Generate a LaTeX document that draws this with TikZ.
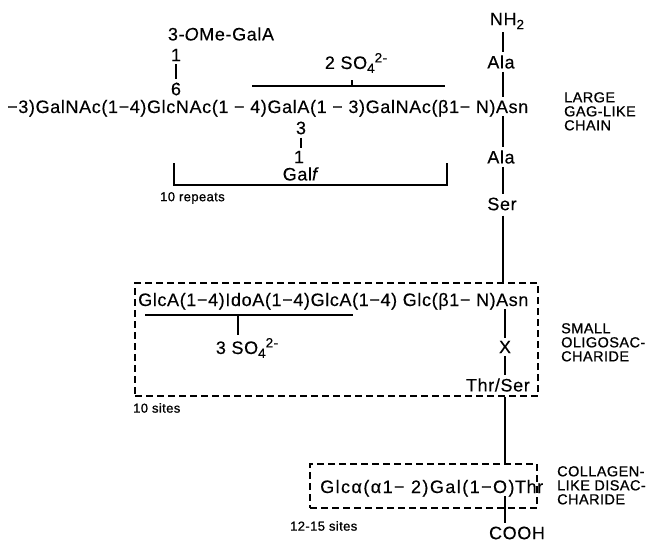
\documentclass[tikz,border=0pt]{standalone}
\usepackage{fontspec}
\setmainfont{Liberation Sans}[LetterSpace=3.5,FakeBold=0.3]
\newfontfamily\boldish{Liberation Sans}[LetterSpace=3,FakeBold=0.9]
\newcommand{\mainsz}{\fontsize{18}{20}\selectfont}
\newcommand{\legsz}{\boldish\fontsize{14.5}{14}\selectfont}
\newcommand{\smsz}{\boldish\fontsize{13}{14}\selectfont}
\newcommand{\scr}[1]{{\fontsize{13.5}{14}\selectfont #1}}
\newcommand{\sulf}{SO\raisebox{-4pt}{\scr{4}}\raisebox{6.5pt}{\scr{2-}}}
\begin{document}
\begin{tikzpicture}[x=1pt,y=-1pt,
  txt/.style={inner sep=0pt,font=\mainsz},
  leg/.style={inner sep=0pt,font=\legsz,align=left,anchor=north west},
  sml/.style={inner sep=0pt,font=\smsz},
  bond/.style={line width=1.1pt,shorten <=3pt,shorten >=3pt},
  link/.style={line width=1.1pt},
  dashbox/.style={draw,line width=1.2pt,dash pattern=on 7pt off 4pt,inner sep=0pt}]
\useasboundingbox (0,0) rectangle (654,543);
% ---- large GAG-like chain
\node[txt] (ome) at (221,34) {3-\textit{O}Me-GalA};
\node[txt] (o1) at (176,55) {1};
\node[txt] (o6) at (176,89) {6};
\draw[bond] (o1.south) -- (o6.north);
\node[txt] (s2) at (356,63) {2 \sulf};
\coordinate (s2l) at (252,86);
\coordinate (s2r) at (445,86);
\coordinate (s2t) at (352,86);
\draw[link] (s2l) -- (s2r);
\draw[link] (s2t) -- ++(0,-6);
\node[txt,anchor=base west] (chain) at (7,113) {−3)GalNAc(1−4)GlcNAc(1 − 4)GalA(1 − 3)GalNAc(β1− N)};
\node[txt,anchor=base west] (asn1) at (chain.base east) {Asn};
\node[txt] (g3) at (301,128) {3};
\node[txt] (g1) at (299,157) {1};
\node[txt] (galf) at (301,174) {Gal\textit{f}};
\draw[bond] (g3.south) -- (g3.south |- g1.north);
\coordinate (bl) at (174,163);
\coordinate (br) at (447,163);
\draw[link] (bl) -- (174,185) -- (447,185) -- (br);
\node[sml,anchor=west] (rep) at (160,198) {10 repeats};
\node[txt] (nh2) at (507,21) {NH\raisebox{-4pt}{\scr{2}}};
\node[txt] (ala1) at (501,62) {Ala};
\node[txt] (ala2) at (501,157) {Ala};
\node[txt] (ser) at (502,204) {Ser};
\coordinate (col) at (503,0);
\draw[bond] (nh2.south -| col) -- (ala1.north -| col);
\draw[bond] (ala1.south -| col) -- (asn1.north -| col);
\draw[bond] (asn1.south -| col) -- (ala2.north -| col);
\draw[bond] (ala2.south -| col) -- (ser.north -| col);
\node[leg] (lg1) at (564,92) {LARGE\\GAG-LIKE\\CHAIN};
% ---- small oligosaccharide
\node[dashbox,minimum width=403pt,minimum height=113pt] (box2) at (336.5,339.5) {};
\draw[link,shorten <=5pt] (ser.south -| col) -- (box2.north -| col);
\node[txt,anchor=base west] (mtext) at (138,306) {GlcA(1−4)IdoA(1−4)GlcA(1−4) Glc(β1− N)};
\node[txt,anchor=base west] (asn2) at (mtext.base east) {Asn};
\coordinate (ul) at (145,315);
\coordinate (ur) at (353,315);
\coordinate (ut) at (238,315);
\draw[link] (ul) -- (ur);
\node[txt] (s3) at (247,348) {3 \sulf};
\draw[link,shorten >=3pt] (ut) -- (ut |- s3.north);
\node[txt] (xx) at (505,347) {X};
\node[txt,anchor=east] (thr) at (530,385) {Thr/Ser};
\draw[bond] (asn2.south -| xx) -- (xx.north);
\draw[bond] (xx.south) -- (thr.north -| xx);
\node[leg] (lg2) at (561,323) {SMALL\\OLIGOSAC-\\CHARIDE};
\node[sml,anchor=west] (sites) at (133,408) {10 sites};
% ---- collagen-like disaccharide
\node[dashbox,minimum width=227pt,minimum height=44pt] (box3) at (423.5,486) {};
\draw[link] (box2.south -| xx) -- (box3.north -| xx);
\node[txt,anchor=base west] (btext) at (320,493) {\addfontfeature{LetterSpace=8}Glcα(α1− 2)Gal(1−O)};
\node[txt,anchor=base west] (thr3) at (btext.base east) {Thr};
\node[txt] (cooh) at (517,533) {COOH};
\draw[bond] (thr3.south -| xx) -- (cooh.north -| xx);
\node[sml,anchor=west] (sites2) at (290,526) {12-15 sites};
\node[leg] (lg3) at (557,466) {COLLAGEN-\\LIKE DISAC-\\CHARIDE};
\end{tikzpicture}
\end{document}
